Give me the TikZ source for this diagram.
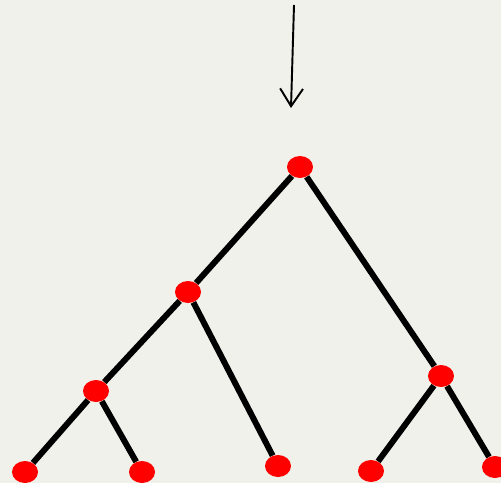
\documentclass[tikz,border=0pt]{standalone}
\usetikzlibrary{shapes.geometric, arrows.meta, backgrounds}

\definecolor{bgpaper}{RGB}{240,241,235}
\definecolor{vertexred}{RGB}{255,0,0}

\begin{document}
\begin{tikzpicture}[
    vertex/.style = {ellipse, fill=vertexred, inner sep=0pt,
                     minimum width=0.52cm, minimum height=0.44cm},
    branch/.style = {line width=3.4pt},
    arrow/.style  = {-{Straight Barb[length=10pt, width=13pt]}, line width=1.1pt}
  ]
  % Frame
  \useasboundingbox (0,0) rectangle (10.02,9.66);

  % Root
  \node[vertex] (root) at (6.00,6.32) {};

  % Inner vertices
  \node[vertex] (left)  at (3.76,3.82) {};
  \node[vertex] (leftl) at (1.92,1.84) {};
  \node[vertex] (right) at (8.82,2.14) {};

  % Leaves
  \node[vertex] (leafa) at (0.50,0.22) {};
  \node[vertex] (leafb) at (2.84,0.22) {};
  \node[vertex] (leafc) at (5.56,0.34) {};
  \node[vertex] (leafd) at (7.42,0.24) {};
  \node[vertex] (leafe) at (9.90,0.32) {};

  % Input arrow
  \coordinate (top) at (5.88,9.56);
  \coordinate (tip) at (5.82,7.50);
  \draw[arrow] (top) -- (tip);

  % Branches
  \begin{scope}[on background layer]
    \fill[bgpaper] (0,0) rectangle (10.02,9.66);
    \draw[branch] (root)  -- (left);
    \draw[branch] (root)  -- (right);
    \draw[branch] (left)  -- (leftl);
    \draw[branch] (left)  -- (leafc);
    \draw[branch] (leftl) -- (leafa);
    \draw[branch] (leftl) -- (leafb);
    \draw[branch] (right) -- (leafd);
    \draw[branch] (right) -- (leafe);
  \end{scope}
\end{tikzpicture}
\end{document}
